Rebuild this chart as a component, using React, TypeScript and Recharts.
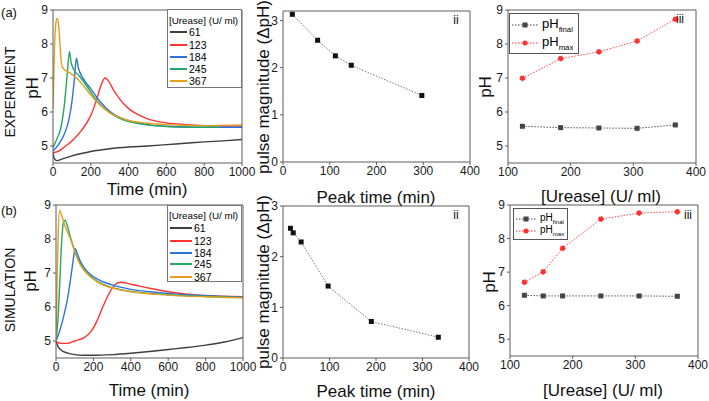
import React from 'react';
import { LineChart, Line, XAxis, YAxis } from 'recharts';

const FONT = '"Liberation Sans", Arial, sans-serif';
const AX = '#5c5c5c';

// (a)-i experiment: [time (min), pH]
const exp61 = [[0, 4.8], [8, 4.62], [20, 4.57], [50, 4.62], [100, 4.71], [150, 4.78], [200, 4.84], [300, 4.92], [400, 4.97], [500, 5.0], [600, 5.04], [700, 5.08], [800, 5.12], [900, 5.15], [1000, 5.19]];
const exp123 = [[0, 4.8], [30, 4.85], [60, 4.97], [100, 5.15], [150, 5.45], [200, 5.9], [230, 6.35], [255, 6.8], [275, 7.0], [295, 6.9], [320, 6.65], [350, 6.4], [400, 6.1], [450, 5.92], [500, 5.8], [600, 5.68], [700, 5.63], [800, 5.6], [900, 5.59], [1000, 5.58]];
const exp184 = [[0, 4.85], [30, 5.05], [60, 5.35], [85, 5.8], [100, 6.3], [112, 6.9], [124, 7.58], [134, 7.3], [148, 7.1], [170, 6.9], [200, 6.68], [250, 6.3], [300, 6.02], [350, 5.85], [400, 5.75], [500, 5.63], [600, 5.58], [800, 5.55], [1000, 5.55]];
const exp245 = [[0, 4.95], [20, 5.2], [40, 5.5], [60, 6.2], [75, 7.1], [87, 7.78], [96, 7.45], [110, 7.25], [140, 7.05], [180, 6.75], [220, 6.42], [260, 6.16], [300, 5.98], [350, 5.82], [400, 5.72], [500, 5.62], [600, 5.57], [700, 5.55], [880, 5.55]];
const exp367 = [[0, 6.1], [8, 7.9], [15, 8.6], [22, 8.75], [30, 8.55], [38, 7.9], [47, 7.35], [60, 7.25], [90, 7.15], [120, 7.02], [150, 6.85], [200, 6.5], [250, 6.2], [300, 5.98], [400, 5.75], [500, 5.67], [600, 5.63], [800, 5.6], [1000, 5.62]];

// (b)-i simulation: [time (min), pH]
const sim61 = [[0, 5.0], [10, 4.85], [30, 4.72], [60, 4.65], [100, 4.6], [150, 4.58], [200, 4.58], [300, 4.6], [400, 4.64], [500, 4.69], [600, 4.75], [700, 4.81], [800, 4.88], [900, 4.97], [1000, 5.1]];
const sim123 = [[0, 4.97], [30, 4.93], [60, 4.93], [100, 5.0], [150, 5.1], [190, 5.3], [220, 5.6], [250, 6.0], [275, 6.3], [300, 6.55], [325, 6.7], [345, 6.73], [400, 6.67], [500, 6.55], [600, 6.45], [700, 6.38], [800, 6.34], [1000, 6.3]];
const sim184 = [[0, 5.0], [20, 5.3], [40, 5.7], [60, 6.2], [80, 6.9], [95, 7.5], [102, 7.72], [115, 7.55], [130, 7.35], [155, 7.12], [185, 6.95], [230, 6.8], [300, 6.65], [400, 6.52], [500, 6.45], [600, 6.4], [800, 6.33], [1000, 6.29]];
const sim245 = [[0, 5.0], [10, 5.6], [20, 6.7], [30, 7.9], [40, 8.5], [48, 8.55], [60, 8.4], [80, 8.0], [100, 7.65], [120, 7.38], [150, 7.1], [200, 6.84], [250, 6.67], [300, 6.57], [400, 6.46], [600, 6.36], [800, 6.31], [1000, 6.28]];
const sim367 = [[0, 5.0], [5, 6.5], [12, 8.2], [20, 8.85], [30, 8.7], [50, 8.35], [70, 8.1], [90, 7.8], [120, 7.35], [150, 7.08], [200, 6.82], [250, 6.65], [300, 6.56], [400, 6.45], [600, 6.35], [800, 6.3], [1000, 6.27]];

const ureaseLevels = ['61', '123', '184', '245', '367'];
const curveColors = ['#3e3e3e', '#ff3434', '#2f72d8', '#26a864', '#e2a01c'];

// (ii) peak time vs pulse magnitude
const expPeakTime = [20, 74, 112, 146, 297];
const expPulse = [3.13, 2.58, 2.25, 2.05, 1.41];
const simPeakTime = [16, 22, 39, 97, 190, 334];
const simPulse = [2.56, 2.47, 2.29, 1.42, 0.72, 0.41];

// (iii) final / max pH vs urease
const expUrease = [123, 184, 245, 306, 367];
const expPhFinal = [5.58, 5.54, 5.53, 5.52, 5.62];
const expPhMax = [6.99, 7.57, 7.77, 8.09, 8.73];
const simUrease = [123, 153, 184, 245, 306, 367];
const simPhFinal = [6.31, 6.29, 6.29, 6.29, 6.29, 6.28];
const simPhMax = [6.7, 7.01, 7.71, 8.58, 8.76, 8.8];

const timeTicks = [0, 200, 400, 600, 800, 1000];
const phTicks = [5, 6, 7, 8, 9];
const peakTicks = [0, 100, 200, 300, 400];
const pulseTicks = [0, 1, 2, 3];
const ureaseTicks = [100, 200, 300, 400];

const toPts = (arr: number[][]) => arr.map(([x, y]) => ({ x, y }));
const zipPts = (xs: number[], ys: number[]) => xs.map((x, i) => ({ x, y: ys[i] }));

const expCurves = [exp61, exp123, exp184, exp245, exp367];
const simCurves = [sim61, sim123, sim184, sim245, sim367];

const tickStyle = { fontSize: 12, fill: '#1a1a1a', fontFamily: FONT };

const SquareDot = (props: any) => {
  const { cx, cy, fill, index } = props;
  if (cx == null || cy == null) return <g key={index} />;
  return <rect key={index} x={cx - 2.5} y={cy - 2.5} width={5} height={5} fill={fill} />;
};

type Box = { x: number; y: number; w: number; h: number };

const PADT = 8;
const PADR = 18;

const Panel = ({ box, xDomain, xTicks, yDomain, yTicks, children }: any) => (
  <div style={{ position: 'absolute', left: box.x - 40, top: box.y - 1 - PADT }}>
    <LineChart width={box.w + 41 + PADR} height={box.h + 31 + PADT} margin={{ top: PADT, right: PADR, bottom: 0, left: 0 }}>
      <XAxis xAxisId="b" type="number" dataKey="x" domain={xDomain} ticks={xTicks} interval={0} height={30}
        allowDataOverflow stroke={AX} tickSize={3} tickMargin={1} tick={tickStyle} />
      <XAxis xAxisId="t" orientation="top" type="number" dataKey="x" domain={xDomain} ticks={xTicks} height={1}
        allowDataOverflow stroke={AX} tickSize={3} tick={false} mirror />
      <YAxis yAxisId="l" type="number" domain={yDomain} ticks={yTicks} interval={0} width={40}
        allowDataOverflow stroke={AX} tickSize={3} tick={tickStyle} />
      <YAxis yAxisId="r" orientation="right" type="number" domain={yDomain} ticks={yTicks} width={1}
        allowDataOverflow stroke={AX} tickSize={3} tick={false} mirror />
      {children}
    </LineChart>
  </div>
);

const T = ({ x, y, size = 17, rot = false, children }: any) => (
  <div style={{
    position: 'absolute', left: x, top: y, fontSize: size, fontFamily: FONT, lineHeight: 1,
    whiteSpace: 'nowrap', color: '#111',
    transform: `translate(-50%, -50%)${rot ? ' rotate(-90deg)' : ''}`,
  }}>{children}</div>
);

const UreaseLegend = ({ x, y, w, h, titleY, rows, sampleW }: any) => (
  <div style={{
    position: 'absolute', left: x, top: y, width: w, height: h, border: '1px solid #777',
    background: '#fff', fontFamily: FONT, boxSizing: 'border-box',
  }}>
    <div style={{ position: 'absolute', left: 1, top: titleY - 5, fontSize: 9.8, lineHeight: 1, whiteSpace: 'nowrap' }}>[Urease] (U/ ml)</div>
    {ureaseLevels.map((u, i) => (
      <div key={u} style={{ position: 'absolute', left: 2, top: rows[i] - 6, height: 12, display: 'flex', alignItems: 'center', fontSize: 10.5 }}>
        <div style={{ width: sampleW, height: 1.5, background: curveColors[i], marginRight: 2 }} />
        <span style={{ lineHeight: 1 }}>{u}</span>
      </div>
    ))}
  </div>
);

const PhLegend = ({ x, y, w, h, fs, rows }: any) => (
  <div style={{
    position: 'absolute', left: x, top: y, width: w, height: h, border: '1px solid #555',
    background: '#fff', fontFamily: FONT, boxSizing: 'border-box',
  }}>
    {[{ sub: 'final', color: '#444', sq: true }, { sub: 'max', color: '#ff3030', sq: false }].map((r, i) => (
      <div key={r.sub} style={{ position: 'absolute', left: 2, top: rows[i], display: 'flex', alignItems: 'center', fontSize: fs }}>
        <svg width={fs * 2} height={8} style={{ marginRight: 4 }}>
          <line x1={0} y1={4} x2={fs * 2} y2={4} stroke={r.color} strokeDasharray="1.5 1.5" />
          {r.sq ? <rect x={fs - 2.5} y={1.5} width={5} height={5} fill={r.color} />
            : <circle cx={fs} cy={4} r={2.5} fill={r.color} />}
        </svg>
        <span style={{ lineHeight: 1 }}>pH<sub style={{ fontSize: fs * 0.6 }}>{r.sub}</sub></span>
      </div>
    ))}
  </div>
);

const boxA1: Box = { x: 53, y: 11, w: 188, h: 152 };
const boxA2: Box = { x: 283, y: 12, w: 186, h: 150 };
const boxA3: Box = { x: 508, y: 11, w: 187, h: 152 };
const boxB1: Box = { x: 56, y: 206, w: 186, h: 152 };
const boxB2: Box = { x: 283, y: 207, w: 185, h: 151 };
const boxB3: Box = { x: 510, y: 206, w: 187, h: 150 };

export default function App() {
  const curveLines = (curves: number[][][]) => curves.map((c, i) => (
    <Line key={ureaseLevels[i]} xAxisId="b" yAxisId="l" data={toPts(c)} dataKey="y" type="monotone"
      stroke={curveColors[i]} strokeWidth={1.4} dot={false} isAnimationActive={false} />
  ));
  const pulseLine = (xs: number[], ys: number[]) => (
    <Line xAxisId="b" yAxisId="l" data={zipPts(xs, ys)} dataKey="y" type="linear" stroke="#777"
      strokeDasharray="1.5 1.5" strokeWidth={1} dot={<SquareDot fill="#111" />} isAnimationActive={false} />
  );
  const phLines = (xs: number[], fin: number[], mx: number[]) => [
    <Line key="f" xAxisId="b" yAxisId="l" data={zipPts(xs, fin)} dataKey="y" type="linear" stroke="#555"
      strokeDasharray="1.5 1.5" strokeWidth={1} dot={<SquareDot fill="#444" />} isAnimationActive={false} />,
    <Line key="m" xAxisId="b" yAxisId="l" data={zipPts(xs, mx)} dataKey="y" type="linear" stroke="#ff4a4a"
      strokeDasharray="1.5 1.5" strokeWidth={1} dot={{ r: 2.5, fill: '#ff3030', stroke: '#ff3030' }} isAnimationActive={false} />,
  ];

  return (
    <div style={{ position: 'absolute', left: 0, top: 0, width: 709, height: 401, background: '#fff', overflow: 'hidden', fontFamily: FONT }}>
      <Panel box={boxA1} xDomain={[0, 1000]} xTicks={timeTicks} yDomain={[4.5, 9]} yTicks={phTicks}>{curveLines(expCurves)}</Panel>
      <Panel box={boxA2} xDomain={[0, 400]} xTicks={peakTicks} yDomain={[0, 3.2]} yTicks={pulseTicks}>{pulseLine(expPeakTime, expPulse)}</Panel>
      <Panel box={boxA3} xDomain={[100, 400]} xTicks={ureaseTicks} yDomain={[4.5, 9]} yTicks={phTicks}>{phLines(expUrease, expPhFinal, expPhMax)}</Panel>
      <Panel box={boxB1} xDomain={[0, 1000]} xTicks={timeTicks} yDomain={[4.5, 9]} yTicks={phTicks}>{curveLines(simCurves)}</Panel>
      <Panel box={boxB2} xDomain={[0, 400]} xTicks={peakTicks} yDomain={[0, 3]} yTicks={pulseTicks}>{pulseLine(simPeakTime, simPulse)}</Panel>
      <Panel box={boxB3} xDomain={[100, 400]} xTicks={ureaseTicks} yDomain={[4.5, 9]} yTicks={phTicks}>{phLines(simUrease, simPhFinal, simPhMax)}</Panel>

      <UreaseLegend x={167} y={9} w={75} h={79} titleY={11} rows={[22, 35, 47, 59, 71]} sampleW={17} />
      <UreaseLegend x={167} y={205} w={75} h={77} titleY={10} rows={[22, 35, 47, 58, 71]} sampleW={22} />
      <PhLegend x={509} y={13} w={70} h={41} fs={13} rows={[3, 21]} />
      <PhLegend x={513} y={208} w={55} h={32} fs={10} rows={[4, 16]} />

      <T x={9} y={12} size={13}>(a)</T>
      <T x={9} y={210} size={13}>(b)</T>
      <T x={10} y={92} size={14} rot>EXPERIMENT</T>
      <T x={32} y={88} rot>pH</T>
      <T x={10} y={290} size={14} rot>SIMULATION</T>
      <T x={30} y={281} rot>pH</T>
      <T x={263} y={87} rot>pulse magnitude (ΔpH)</T>
      <T x={263} y={282} rot>pulse magnitude (ΔpH)</T>
      <T x={485} y={87} rot>pH</T>
      <T x={489} y={282} rot>pH</T>

      <T x={147} y={189}>Time (min)</T>
      <T x={376} y={197}>Peak time (min)</T>
      <T x={601} y={196}>[Urease] (U/ ml)</T>
      <T x={149} y={390}>Time (min)</T>
      <T x={376} y={391}>Peak time (min)</T>
      <T x={603} y={390}>[Urease] (U/ ml)</T>

      <T x={456} y={20} size={12}>ii</T>
      <T x={456} y={215} size={12}>ii</T>
      <T x={680} y={19} size={12}>iii</T>
      <T x={688} y={215} size={12}>iii</T>
    </div>
  );
}
